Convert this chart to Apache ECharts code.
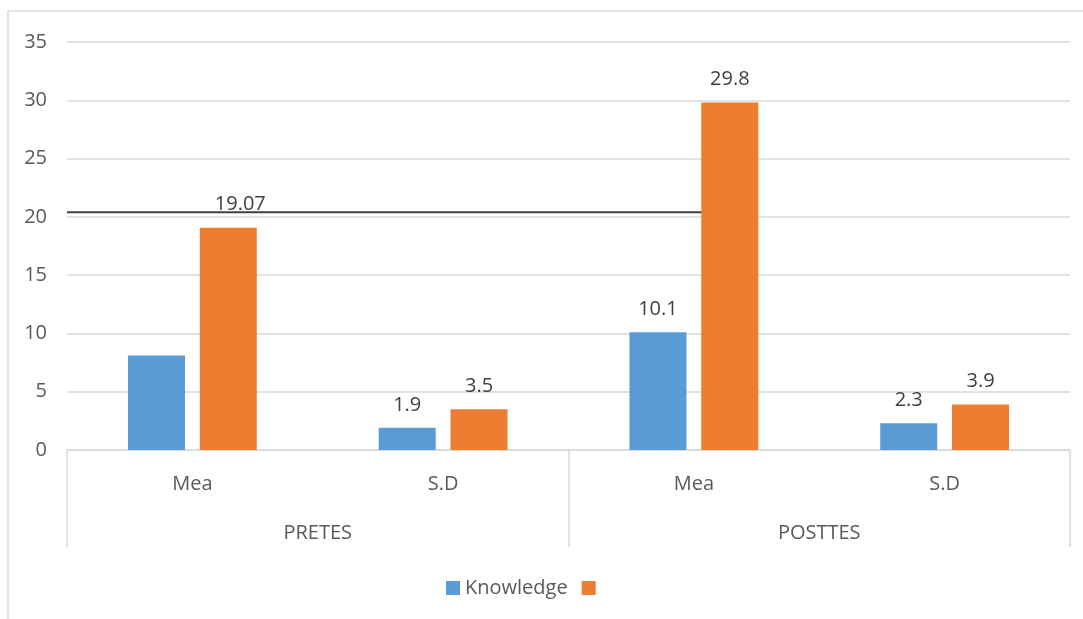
<!DOCTYPE html>
<html><head><meta charset="utf-8">
<script src="https://cdn.jsdelivr.net/npm/echarts@6/dist/echarts.min.js"></script>
<style>html,body{margin:0;padding:0;background:#fff}#c{width:1083px;height:619px}</style>
</head><body><div id="c"></div>
<script>
const categories = ['Mea', 'S.D', 'Mea', 'S.D'];
const groups = ['PRETES', 'POSTTES'];
const knowledge = [8.1, 1.9, 10.1, 2.3];
const other = [19.07, 3.5, 29.8, 3.9];
const knowledgeLabelShown = [false, true, true, true];
const refLineY = 20.4;
const refLineX = [0, 2.536]; // in category-band units from left edge
const yTicks = { min: 0, max: 35, interval: 5 };

const FONT = 'Open Sans';
const FS = 20;
const chart = echarts.init(document.getElementById('c'));
chart.setOption({
  animation: false,
  textStyle: { fontFamily: FONT },
  graphic: [{ type: 'rect', shape: { x: 8, y: 11, width: 1090, height: 620 }, style: { fill: 'none', stroke: '#d9d9d9', lineWidth: 1.5 }, silent: true }],
  grid: { left: 67, right: 13, top: 42, bottom: 169, containLabel: false },
  legend: {
    top: 573, left: 441, itemWidth: 14, itemHeight: 14, itemGap: 14,
    icon: 'rect',
    textStyle: { fontSize: FS, color: '#595959', fontFamily: FONT },
    data: ['Knowledge', ' ']
  },
  xAxis: [
    { type: 'category', data: categories, position: 'bottom',
      axisLine: { lineStyle: { color: '#d9d9d9', width: 1.5 } },
      axisTick: { show: false },
      axisLabel: { fontSize: FS, color: '#595959', margin: 24, fontFamily: FONT } },
    { type: 'category', data: groups, position: 'bottom',
      axisLine: { show: false },
      axisTick: { show: true, length: 97, interval: 0, lineStyle: { color: '#d9d9d9', width: 1.5 } },
      axisLabel: { fontSize: FS, color: '#595959', margin: 73, fontFamily: FONT } },
    { type: 'value', min: 0, max: 4, show: false }
  ],
  yAxis: {
    type: 'value', min: yTicks.min, max: yTicks.max, interval: yTicks.interval,
    axisLine: { show: false }, axisTick: { show: false },
    axisLabel: { fontSize: FS, color: '#595959', margin: 20, fontFamily: FONT },
    splitLine: { lineStyle: { color: '#d9d9d9', width: 1.5 } }
  },
  series: [
    { name: 'Knowledge', type: 'bar', xAxisIndex: 0, barWidth: 57, barGap: '26%',
      itemStyle: { color: '#5b9bd5' },
      label: { show: true, position: 'top', distance: 13, fontSize: FS, color: '#404040', fontFamily: FONT },
      data: knowledge.map((v, i) => ({ value: v, label: { show: knowledgeLabelShown[i] } })) },
    { name: ' ', type: 'bar', xAxisIndex: 0, barWidth: 57, barGap: '26%',
      itemStyle: { color: '#ed7d31' },
      label: { show: true, position: 'top', distance: 13, fontSize: FS, color: '#404040', fontFamily: FONT },
      data: other.map((v, i) => (i === 0 ? { value: v, label: { offset: [12, 0] } } : v)) },
    { name: 'ref', type: 'line', xAxisIndex: 2, symbol: 'none', silent: true,
      lineStyle: { color: '#404040', width: 2 }, z: 1,
      data: refLineX.map(x => [x, refLineY]) }
  ]
});
</script></body></html>
